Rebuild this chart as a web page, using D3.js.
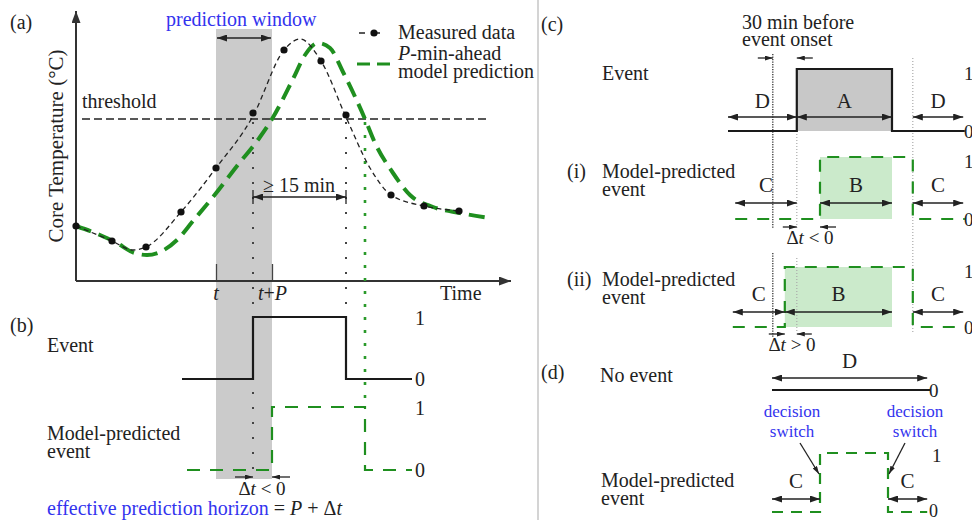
<!DOCTYPE html>
<html><head><meta charset="utf-8">
<script src="https://cdn.jsdelivr.net/npm/d3@7"></script>
<style>
body{margin:0;background:#fff}
text{font-family:"Liberation Serif","Times New Roman",serif;fill:#222}
</style></head>
<body><svg id="chart" width="972" height="520"></svg>
<script>
// ---------- DATA (panel a/b: time in min, core temperature in °C) ----------
const measuredTime = [0, 7.2, 14, 21, 28, 35.4, 41.6, 49, 54, 63, 69.6, 76.6];
const measuredTemp = [37.55, 37.40, 37.34, 37.69, 38.13, 38.68, 39.31, 39.20, 38.66, 37.86, 37.75, 37.70];
const measuredCurveTime = [0, 7.2, 11.4, 14, 21, 28, 35.4, 41.6, 44.8, 49, 54, 58.8, 63, 69.6, 77];
const measuredCurveTemp = [37.55, 37.40, 37.31, 37.34, 37.69, 38.13, 38.65, 39.31, 39.42, 39.20, 38.64, 38.13, 37.86, 37.75, 37.70];
const predictedCurveTime = [0, 4.8, 8.2, 11.2, 14.2, 16.8, 20.2, 23.4, 27.4, 32.2, 36.8, 39.2, 43.4, 45.8, 48.4, 50.8, 53.4, 57.8, 59.8, 63.4, 66.8, 71.4, 76.8, 82.8];
const predictedCurveTemp = [37.55, 37.46, 37.38, 37.29, 37.26, 37.29, 37.41, 37.60, 37.84, 38.15, 38.44, 38.62, 39.02, 39.26, 39.38, 39.33, 39.09, 38.62, 38.38, 38.08, 37.86, 37.74, 37.68, 37.63];
const thresholdTemp = 38.62;
const thresholdSpan = [1.2, 82.8];
const windowStart = 28, windowEnd = 39.2;      // t, t+P
const eventOnsetT = 35.4, eventEndT = 54, predEndT = 57.8;

// panel b step signals
const eventTime = [21.2, 35.4, 54, 67.2];
const eventState = [0, 1, 0, 0];
const predTime = [22.2, 39.2, 57.8, 67.2];
const predState = [0, 1, 0, 0];

// panels c/d (time in min)
const onsetC = 86, beforeC = 56, endC = 205, afterC = 231;
const eventCTime = [0, 86, 205, 296];
const eventCState = [0, 1, 0, 0];
const predITime = [9, 115, 231, 296];
const predIState = [0, 1, 0, 0];
const predIITime = [6, 71, 231, 296];
const predIIState = [0, 1, 0, 0];
const noEventTime = [55, 252.5];
const noEventState = [0, 0];
const predDTime = [55, 115, 200, 249];
const predDState = [0, 1, 0, 0];
const eventRegions = [{label:"D", from:0, to:86}, {label:"A", from:86, to:205}, {label:"D", from:231, to:294}];
const predIRegions = [{label:"C", from:9, to:86}, {label:"B", from:115, to:205}, {label:"C", from:231, to:294}];
const predIIRegions = [{label:"C", from:6, to:71}, {label:"B", from:71, to:205}, {label:"C", from:231, to:294}];
const noEventRegions = [{label:"D", from:55, to:249}];
const predDRegions = [{label:"C", from:55, to:115}, {label:"C", from:200, to:249}];

// ---------- DRAWING ----------
const svg = d3.select("#chart");
const defs = svg.append("defs");
function marker(id, w, h, col) {
  defs.append("marker").attr("id", id).attr("viewBox", `0 0 ${w} ${h}`)
    .attr("refX", w).attr("refY", h / 2).attr("markerWidth", w).attr("markerHeight", h)
    .attr("markerUnits", "userSpaceOnUse").attr("orient", "auto-start-reverse")
    .append("path").attr("d", `M0,0L${w},${h / 2}L0,${h}Z`).attr("fill", col || "#222");
}
marker("ah", 10, 7); marker("ahs", 8, 5); marker("axh", 12, 9, "#333");

function arrow(x1, y1, x2, y2, both, m) {
  const l = svg.append("line").attr("x1", x1).attr("y1", y1).attr("x2", x2).attr("y2", y2)
    .attr("stroke", "#222").attr("stroke-width", 1.3).attr("marker-end", `url(#${m || "ah"})`);
  if (both) l.attr("marker-start", `url(#${m || "ah"})`);
  return l;
}
function txt(x, y, s, o) {
  o = o || {};
  const t = svg.append("text").attr("x", x).attr("y", y).attr("font-size", o.size || 20)
    .attr("text-anchor", o.anchor || "start").text(s);
  if (o.fill) t.style("fill", o.fill);
  if (o.italic) t.attr("font-style", "italic");
  return t;
}
function vdot(xp, y1, y2, col, w, dash) {
  svg.append("line").attr("x1", xp).attr("x2", xp).attr("y1", y1).attr("y2", y2)
    .attr("stroke", col).attr("stroke-width", w).attr("stroke-dasharray", dash);
}
const BLUE = "#3333ee", GREEN = "#1f8f1f";

// separator
svg.append("line").attr("x1", 538).attr("x2", 538).attr("y1", 0).attr("y2", 520)
  .attr("stroke", "#d4d4d4").attr("stroke-width", 2);

// ---- panel (a) ----
const x = d3.scaleLinear([0, 87], [76, 511]);
const y = d3.scaleLinear([37, 39.7], [281, 11]);

svg.append("rect").attr("x", x(windowStart)).attr("y", 29)
  .attr("width", x(windowEnd) - x(windowStart)).attr("height", 479 - 29).attr("fill", "#cbcbcb");

// axes (d3 axis for ticks t and t+P)
const ax = svg.append("g").attr("transform", `translate(0,${y(37)})`)
  .call(d3.axisBottom(x).tickValues([windowStart, windowEnd]).tickSize(-17).tickFormat(""));
ax.select(".domain").remove();
ax.selectAll(".tick line").attr("stroke", "#444").attr("stroke-width", 1.3);
svg.append("line").attr("x1", x(0)).attr("y1", y(37)).attr("x2", x(87)).attr("y2", y(37))
  .attr("stroke", "#333").attr("stroke-width", 2).attr("marker-end", "url(#axh)");
svg.append("line").attr("x1", x(0)).attr("y1", y(37)).attr("x2", x(0)).attr("y2", y(39.7))
  .attr("stroke", "#333").attr("stroke-width", 2).attr("marker-end", "url(#axh)");

// threshold
svg.append("line").attr("x1", x(thresholdSpan[0])).attr("x2", x(thresholdSpan[1]))
  .attr("y1", y(thresholdTemp)).attr("y2", y(thresholdTemp))
  .attr("stroke", "#222").attr("stroke-width", 1.4).attr("stroke-dasharray", "8,4");

// vertical dotted markers
vdot(x(eventOnsetT), y(thresholdTemp) + 3, 470, "#444", 2, "2,13");
vdot(x(eventEndT), y(thresholdTemp) + 3, 317, "#444", 2, "2,13");
vdot(x(predEndT), y(thresholdTemp) + 3, 407, "#2a9a2a", 2.6, "3,10");

const lineA = d3.line().x(d => x(d[0])).y(d => y(d[1])).curve(d3.curveMonotoneX);
svg.append("path").attr("d", lineA(predictedCurveTime.map((t, i) => [t, predictedCurveTemp[i]])))
  .attr("fill", "none").attr("stroke", GREEN).attr("stroke-width", 4).attr("stroke-dasharray", "16,8");
svg.append("path").attr("d", lineA(measuredCurveTime.map((t, i) => [t, measuredCurveTemp[i]])))
  .attr("fill", "none").attr("stroke", "#222").attr("stroke-width", 1.3).attr("stroke-dasharray", "5,3.5");
svg.selectAll("circle.md").data(measuredTime).join("circle").attr("class", "md")
  .attr("cx", d => x(d)).attr("cy", (d, i) => y(measuredTemp[i])).attr("r", 3.6).attr("fill", "#111");

// prediction window arrow
arrow(x(windowStart) + 1, 38, x(windowEnd) - 1, 38, true);
txt(166, 26, "prediction window", {fill: BLUE});

// >= 15 min arrow
arrow(x(eventOnsetT), 197, x(eventEndT), 197, true);
[eventOnsetT, eventEndT].forEach(t => svg.append("line").attr("x1", x(t)).attr("x2", x(t))
  .attr("y1", 190).attr("y2", 204).attr("stroke", "#222").attr("stroke-width", 1.3));
txt(263, 192, "≥ 15 min");

// legend
svg.append("line").attr("x1", 359).attr("x2", 389).attr("y1", 33).attr("y2", 33)
  .attr("stroke", "#222").attr("stroke-width", 1.5).attr("stroke-dasharray", "6,9");
svg.append("circle").attr("cx", 374).attr("cy", 33).attr("r", 3.6).attr("fill", "#111");
txt(398, 39, "Measured data");
svg.append("line").attr("x1", 357).attr("x2", 390).attr("y1", 64).attr("y2", 64)
  .attr("stroke", GREEN).attr("stroke-width", 3).attr("stroke-dasharray", "13,7");
const lt = txt(398, 60, "");
lt.append("tspan").attr("font-style", "italic").text("P");
lt.append("tspan").text("-min-ahead");
txt(398, 78, "model prediction");
txt(440, 300, "Time");
txt(x(windowStart), 300, "t", {italic: true, anchor: "middle"});
const tp = txt(258, 300, "");
tp.append("tspan").attr("font-style", "italic").text("t");
tp.append("tspan").text("+");
tp.append("tspan").attr("font-style", "italic").text("P");
txt(82, 108, "threshold");
txt(10, 29, "(a)");
txt(0, 0, "Core Temperature (°C)", {anchor: "middle", size: 21})
  .attr("transform", "translate(63,146) rotate(-90)");

// ---- panel (b) ----
const yEv = d3.scaleLinear([0, 1], [379, 317]);
const yPr = d3.scaleLinear([0, 1], [470, 407]);
const stepB = sc => d3.line().x(d => x(d[0])).y(d => sc(d[1])).curve(d3.curveStepAfter);
svg.append("path").attr("d", stepB(yEv)(eventTime.map((t, i) => [t, eventState[i]])))
  .attr("fill", "none").attr("stroke", "#1a1a1a").attr("stroke-width", 2.2);
svg.append("path").attr("d", stepB(yPr)(predTime.map((t, i) => [t, predState[i]])))
  .attr("fill", "none").attr("stroke", GREEN).attr("stroke-width", 2.2).attr("stroke-dasharray", "13,10");
txt(415, yEv(1) + 8, "1"); txt(415, yEv(0) + 7, "0");
txt(415, yPr(1) + 8, "1"); txt(415, yPr(0) + 7, "0");
txt(10, 332, "(b)");
txt(47, 352, "Event");
txt(47, 440, "Model-predicted");
txt(47, 458, "event");
arrow(x(eventOnsetT) - 18, 477, x(eventOnsetT), 477, false, "ahs");
arrow(x(windowEnd) + 18, 477, x(windowEnd), 477, false, "ahs");
const dtb = txt(262, 495, "", {anchor: "middle", size: 19});
dtb.append("tspan").text("Δ"); dtb.append("tspan").attr("font-style", "italic").text("t");
dtb.append("tspan").text(" < 0");
const eh = txt(47, 515, "");
eh.append("tspan").style("fill", BLUE).text("effective prediction horizon");
eh.append("tspan").text(" = ");
eh.append("tspan").attr("font-style", "italic").text("P");
eh.append("tspan").text(" + Δ");
eh.append("tspan").attr("font-style", "italic").text("t");

// ---- panels (c) and (d) ----
const xc = d3.scaleLinear([0, 300], [728, 968]);
const rows = {
  ev:  {y: d3.scaleLinear([0, 1], [131, 69]),  ay: 117, ly: 108},
  i:   {y: d3.scaleLinear([0, 1], [219, 157]), ay: 203, ly: 192},
  ii:  {y: d3.scaleLinear([0, 1], [327, 267]), ay: 312, ly: 301},
  ne:  {y: d3.scaleLinear([0, 1], [390, 330]), ay: 378, ly: 368},
  pd:  {y: d3.scaleLinear([0, 1], [512, 453]), ay: 499, ly: 488}
};
// fills
function fillRect(row, a, b, col) {
  svg.append("rect").attr("x", xc(a)).attr("y", row.y(1)).attr("width", xc(b) - xc(a))
    .attr("height", row.y(0) - row.y(1)).attr("fill", col);
}
fillRect(rows.ev, onsetC, endC, "#c8c8c8");
fillRect(rows.i, predITime[1], endC, "#cbeacb");
fillRect(rows.ii, predIITime[1], endC, "#cbeacb");

// dotted guides
vdot(xc(beforeC), 54, 228, "#333", 1.3, "1.2,1.3");
vdot(xc(beforeC), 253, 337, "#333", 1.3, "1.2,1.3");
vdot(xc(onsetC), 131, 229, "#aaa", 1.2, "1,2");
vdot(xc(onsetC), 258, 333, "#aaa", 1.2, "1,2");
vdot(xc(afterC), 58, 333, "#aaa", 1.2, "1,2");

const stepC = sc => d3.line().x(d => xc(d[0])).y(d => sc(d[1])).curve(d3.curveStepAfter);
function sig(row, tt, ss, green, dash) {
  const p = svg.append("path").attr("d", stepC(row.y)(tt.map((t, i) => [t, ss[i]])))
    .attr("fill", "none").attr("stroke", green ? GREEN : "#1a1a1a").attr("stroke-width", 2.2);
  if (green) p.attr("stroke-dasharray", dash || "12,10");
}
sig(rows.ev, eventCTime, eventCState, false);
sig(rows.i, predITime, predIState, true);
sig(rows.ii, predIITime, predIIState, true);
sig(rows.ne, noEventTime, noEventState, false);
sig(rows.pd, predDTime, predDState, true, "11,8");

function regions(row, regs) {
  regs.forEach(r => {
    arrow(xc(r.from), row.ay, xc(r.to), row.ay, true);
    txt((xc(r.from) + xc(r.to)) / 2, row.ly, r.label, {anchor: "middle", size: 21});
  });
}
regions(rows.ev, eventRegions);
regions(rows.i, predIRegions);
regions(rows.ii, predIIRegions);
regions(rows.ne, noEventRegions);
regions(rows.pd, predDRegions);

// level labels
txt(964, rows.ev.y(1) + 11, "1", {size: 19}); txt(964, rows.ev.y(0) + 7, "0", {size: 19});
txt(964, rows.i.y(1) + 11, "1", {size: 19}); txt(964, rows.i.y(0) + 7, "0", {size: 19});
txt(964, rows.ii.y(1) + 11, "1", {size: 19}); txt(964, rows.ii.y(0) + 7, "0", {size: 19});
txt(929, rows.ne.y(0) + 7, "0", {size: 19});
txt(932, rows.pd.y(1) + 9, "1", {size: 19}); txt(929, rows.pd.y(0) + 5, "0", {size: 18});

// 30 min before
arrow(xc(beforeC) - 15, 58, xc(beforeC), 58, false, "ahs");
arrow(xc(onsetC) + 16, 58, xc(onsetC), 58, false, "ahs");
txt(742, 29, "30 min before");
txt(742, 46, "event onset");

// delta t arrows
arrow(xc(onsetC) - 14, 227, xc(onsetC), 227, false, "ahs");
arrow(xc(predITime[1]) + 16, 227, xc(predITime[1]), 227, false, "ahs");
const d1 = txt(810, 244, "", {anchor: "middle", size: 19});
d1.append("tspan").text("Δ"); d1.append("tspan").attr("font-style", "italic").text("t"); d1.append("tspan").text(" < 0");
arrow(xc(predIITime[1]) - 16, 334, xc(predIITime[1]), 334, false, "ahs");
arrow(xc(onsetC) + 15, 334, xc(onsetC), 334, false, "ahs");
const d2 = txt(792, 351, "", {anchor: "middle", size: 19});
d2.append("tspan").text("Δ"); d2.append("tspan").attr("font-style", "italic").text("t"); d2.append("tspan").text(" > 0");

// row labels
txt(541, 31, "(c)");
txt(602, 80, "Event");
txt(567, 178, "(i)"); txt(602, 178, "Model-predicted"); txt(602, 196, "event");
txt(567, 286, "(ii)"); txt(602, 286, "Model-predicted"); txt(602, 304, "event");
txt(541, 379, "(d)"); txt(600, 382, "No event");
txt(601, 487, "Model-predicted"); txt(601, 505, "event");

// decision switch
txt(792, 417, "decision", {anchor: "middle", size: 17, fill: BLUE});
txt(792, 437, "switch", {anchor: "middle", size: 17, fill: BLUE});
txt(915, 417, "decision", {anchor: "middle", size: 17, fill: BLUE});
txt(915, 437, "switch", {anchor: "middle", size: 17, fill: BLUE});
arrow(800, 443, xc(predDTime[1]) - 1, 474, false, "ahs");
arrow(905, 443, xc(predDTime[2]) + 1, 474, false, "ahs");
</script></body></html>
